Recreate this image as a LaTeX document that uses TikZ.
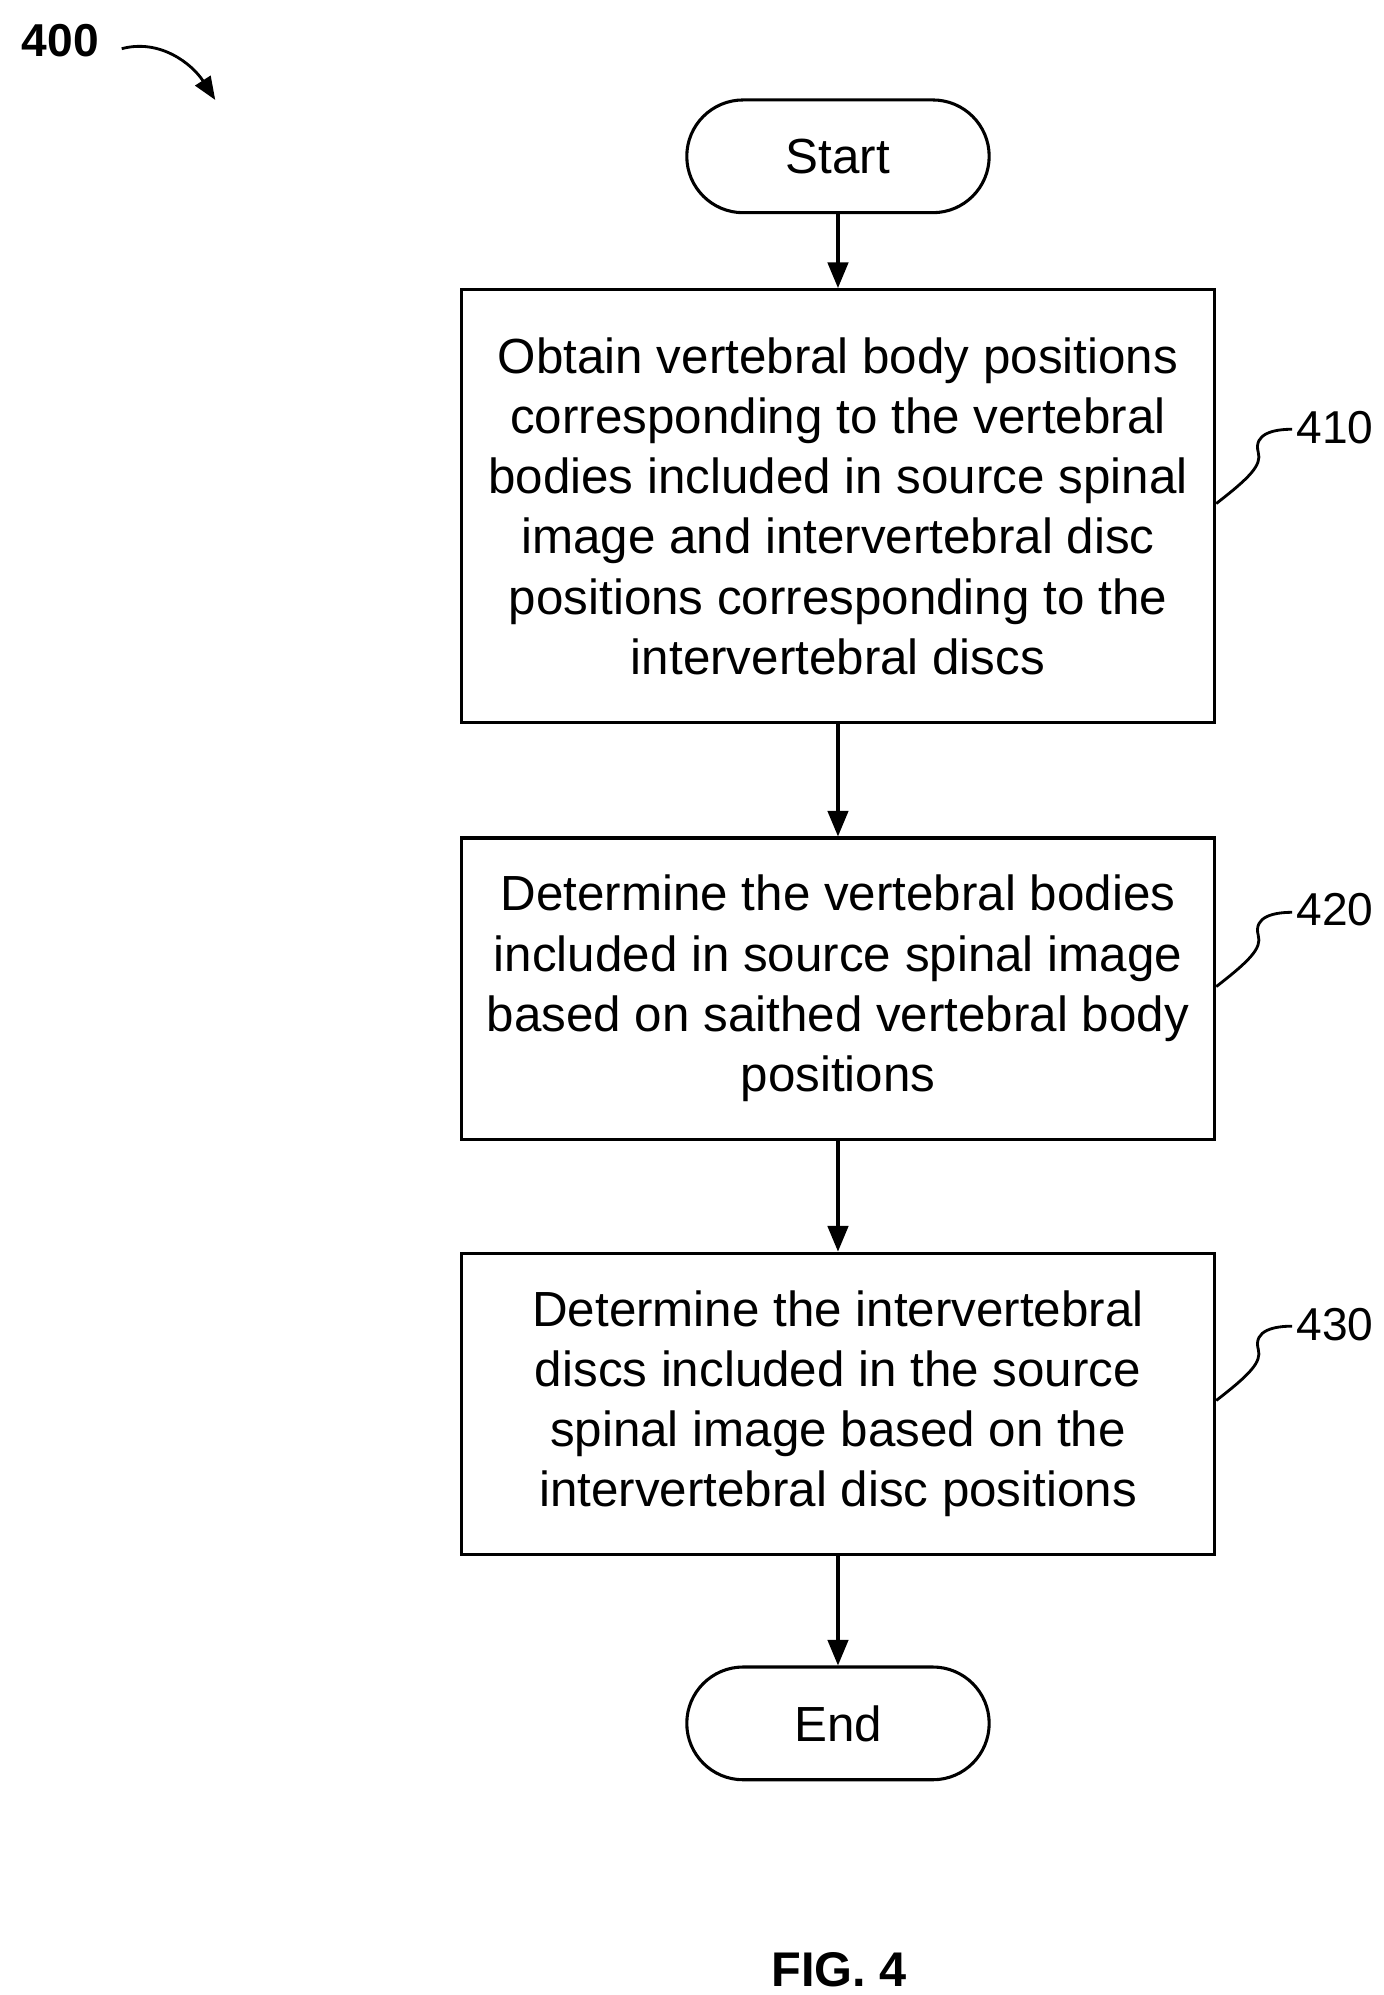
\documentclass[tikz,border=0pt]{standalone}
\usepackage{fontspec}
\setmainfont{Liberation Sans}
\usetikzlibrary{arrows.meta}
\begin{document}
\begin{tikzpicture}[x=1pt,y=-1pt,
  every node/.style={font=\fontsize{38.5}{47}\selectfont},
  box/.style={draw,line width=2.4pt,minimum width=588pt,align=center,inner sep=0pt},
  term/.style={draw,line width=2.4pt,rounded corners=44pt,minimum width=236pt,minimum height=88pt},
  arr/.style={line width=2.4pt,-{Triangle[length=20pt,width=16pt]}},
  lbl/.style={line width=2.2pt}]
\useasboundingbox (0,0) rectangle (1080,1557);
\node[term] (s) at (654,122) {Start};
\node[box,minimum height=338pt] (b1) at (654,395) {Obtain vertebral body positions\\corresponding to the vertebral\\bodies included in source spinal\\image and intervertebral disc\\positions corresponding to the\\intervertebral discs};
\node[box,minimum height=235pt] (b2) at (654,771.5) {Determine the vertebral bodies\\included in source spinal image\\based on saithed vertebral body\\positions};
\node[box,minimum height=235pt] (b3) at (654,1095.5) {Determine the intervertebral\\discs included in the source\\spinal image based on the\\intervertebral disc positions};
\node[term] (e) at (654,1345) {End};
\draw[arr] (s) -- (b1);
\draw[arr] (b1) -- (b2);
\draw[arr] (b2) -- (b3);
\draw[arr] (b3) -- (e);
\node[font=\fontsize{36}{40}\selectfont] (l1) at (1042,334) {410};
\node[font=\fontsize{36}{40}\selectfont] (l2) at (1042,710) {420};
\node[font=\fontsize{36}{40}\selectfont] (l3) at (1042,1034) {430};
\foreach \b/\l/\y in {b1/l1/393,b2/l2/770,b3/l3/1093}{
  \draw[lbl] (\b.east |- 0,\y) .. controls (975,\y-20) and (985,\y-30) .. (982,\y-40)
     .. controls (978,\y-55) and (995,\y-58) .. (\l.west |- 0,\y-58);
}
\node[font=\fontsize{36}{40}\bfseries\selectfont] (n) at (47,32) {400};
\coordinate (na) at (168,78);
\draw[line width=2.2pt,-{Triangle[length=18pt,width=14pt]}] (95,38) .. controls (125,30) and (150,50) .. (na);
\node[font=\fontsize{38}{42}\bfseries\selectfont] (fig) at (655,1537) {FIG. 4};
\end{tikzpicture}
\end{document}
